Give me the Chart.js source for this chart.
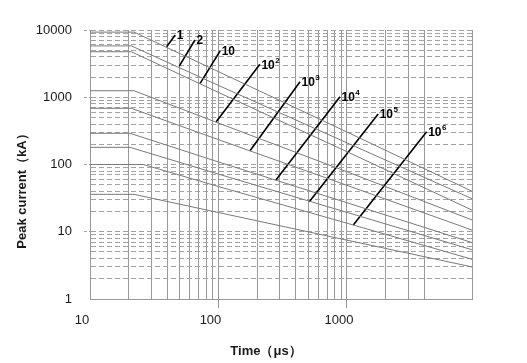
<!DOCTYPE html>
<html>
<head>
<meta charset="utf-8">
<script src="https://cdn.jsdelivr.net/npm/chart.js@4.4.1/dist/chart.umd.min.js"></script>
<style>
  html, body { margin: 0; padding: 0; background: #fff; }
  canvas { display: block; }
</style>
</head>
<body>
<canvas id="pulseChart" width="527" height="363"></canvas>
<script>
// pulse derating curves (time in µs, current in kA)
const curveLabels = ['1', '2', '10', '10^2', '10^3', '10^4', '10^5', '10^6', ''];
const bendTime = [22, 21, 21, 22, 21, 20.5, 20.5, 26, 22];
const flatCurrent = [9300, 5800, 4750, 1250, 685, 291, 180, 100, 36];
const currentAt100 = [2400, 1500, 1180, 413, 234, 109, 72, 47, 19.3];
const currentAt1000 = [304, 210, 155, 78, 49, 27, 19.4, 13.4, 7.5];
const currentAtEnd = [40, 31, 21, 15, 10.6, 6.9, 5.4, 3.9, 3.0];

const timeMin = 10;
const timeMax = 9400;
const timeGrid = [10, 20, 30, 40, 50, 60, 70, 80, 90, 100, 200, 300, 400, 500, 600, 700, 800, 900, 1000, 2000, 3000, 4000, 9400];
const timeLabels = [10, 100, 1000];
const currentGrid = [1, 2, 3, 4, 5, 6, 7, 8, 9, 10, 20, 30, 40, 50, 60, 70, 80, 90,
  100, 200, 300, 400, 500, 600, 700, 800, 900, 1000, 2000, 3000, 4000, 5000, 6000, 7000, 8000, 9000, 10000];
const currentLabels = [1, 10, 100, 1000, 10000];

// leader lines for the curve labels: [time, current] at the lower and upper end
const pointerLow = [[39.5, 5650], [49.5, 2900], [72, 1610], [96, 433], [176, 160], [280, 59], [509, 28], [1120, 12.6]];
const pointerHigh = [[46, 8400], [65.6, 7100], [103, 4880], [210, 3090], [431, 1700], [883, 1020], [1750, 564], [4170, 307]];

const xTitle = 'Time（μs）';
const yTitle = 'Peak current（kA）';

const gridGray = '#999999';
const dashGray = '#a2a2a2';
const font = 'Liberation Sans, Arial, sans-serif';

const datasets = [];
flatCurrent.forEach((flat, i) => {
  datasets.push({
    data: [
      { x: timeMin, y: flat },
      { x: bendTime[i], y: flat },
      { x: 100, y: currentAt100[i] },
      { x: 1000, y: currentAt1000[i] },
      { x: timeMax, y: currentAtEnd[i] }
    ],
    borderColor: '#7a7a7a',
    borderWidth: 1,
    pointRadius: 0,
    tension: 0,
    fill: false
  });
});
pointerLow.forEach((low, i) => {
  datasets.push({
    data: [{ x: low[0], y: low[1] }, { x: pointerHigh[i][0], y: pointerHigh[i][1] }],
    borderColor: '#000',
    borderWidth: 1.6,
    pointRadius: 0,
    fill: false
  });
});

const labelPlugin = {
  id: 'curveLabels',
  afterDatasetsDraw(chart) {
    const { ctx, scales: { x, y } } = chart;
    ctx.save();
    ctx.fillStyle = '#000';
    ctx.textBaseline = 'middle';
    ctx.textAlign = 'left';
    pointerHigh.forEach((p, i) => {
      const px = x.getPixelForValue(p[0]) + 1.5;
      const py = y.getPixelForValue(p[1]) + 1;
      const [base, exp] = curveLabels[i].split('^');
      ctx.font = 'bold 12px ' + font;
      ctx.fillText(base, px, py);
      if (exp) {
        const w = ctx.measureText(base).width;
        ctx.font = 'bold 8px ' + font;
        ctx.fillText(exp, px + w + 0.5, py - 5);
      }
    });
    ctx.restore();
  },
  afterDraw(chart) {
    const { ctx, chartArea } = chart;
    ctx.save();
    ctx.fillStyle = '#1a1a1a';
    ctx.font = 'bold 13px ' + font;
    ctx.textAlign = 'center';
    ctx.textBaseline = 'middle';
    ctx.fillText(xTitle, chartArea.left + 176, chartArea.bottom + 52);
    ctx.translate(22, chartArea.top + 158);
    ctx.rotate(-Math.PI / 2);
    ctx.fillText(yTitle, 0, 0);
    ctx.restore();
  }
};

new Chart(document.getElementById('pulseChart'), {
  type: 'line',
  data: { datasets },
  plugins: [labelPlugin],
  options: {
    responsive: false,
    animation: false,
    devicePixelRatio: 1,
    layout: { padding: { top: 30, right: 55, bottom: 0, left: 0 } },
    plugins: { legend: { display: false }, tooltip: { enabled: false } },
    scales: {
      x: {
        type: 'logarithmic',
        min: timeMin,
        max: timeMax,
        afterBuildTicks: s => { s.ticks = timeGrid.map(v => ({ value: v })); },
        afterFit: s => { s.height = 64; },
        ticks: {
          autoSkip: false,
          maxRotation: 0,
          padding: 5,
          labelOffset: -8,
          color: '#1a1a1a',
          font: { family: font, size: 13 },
          callback: v => timeLabels.includes(v) ? String(v) : ''
        },
        grid: {
          color: gridGray,
          lineWidth: 1,
          tickLength: 9,
          tickColor: c => (c.tick && (c.tick.value === 100 || c.tick.value === 1000)) ? gridGray : 'rgba(0,0,0,0)'
        },
        border: { display: true, color: gridGray, width: 1 }
      },
      y: {
        type: 'logarithmic',
        min: 1,
        max: 10000,
        afterBuildTicks: s => { s.ticks = currentGrid.map(v => ({ value: v })); },
        afterFit: s => { s.width = 90; },
        ticks: {
          autoSkip: false,
          padding: 12,
          color: '#1a1a1a',
          font: { family: font, size: 13 },
          callback: v => currentLabels.includes(v) ? String(v) : ''
        },
        grid: {
          color: c => (c.tick && c.tick.value === 1) ? 'rgba(0,0,0,0)' : dashGray,
          lineWidth: 1,
          tickLength: 6,
          tickBorderDash: [3, 2],
          tickColor: c => (c.tick && c.tick.value > 1 && currentLabels.includes(c.tick.value)) ? dashGray : 'rgba(0,0,0,0)'
        },
        border: { display: true, color: gridGray, width: 1, dash: [5, 3] }
      }
    }
  }
});
</script>
</body>
</html>
